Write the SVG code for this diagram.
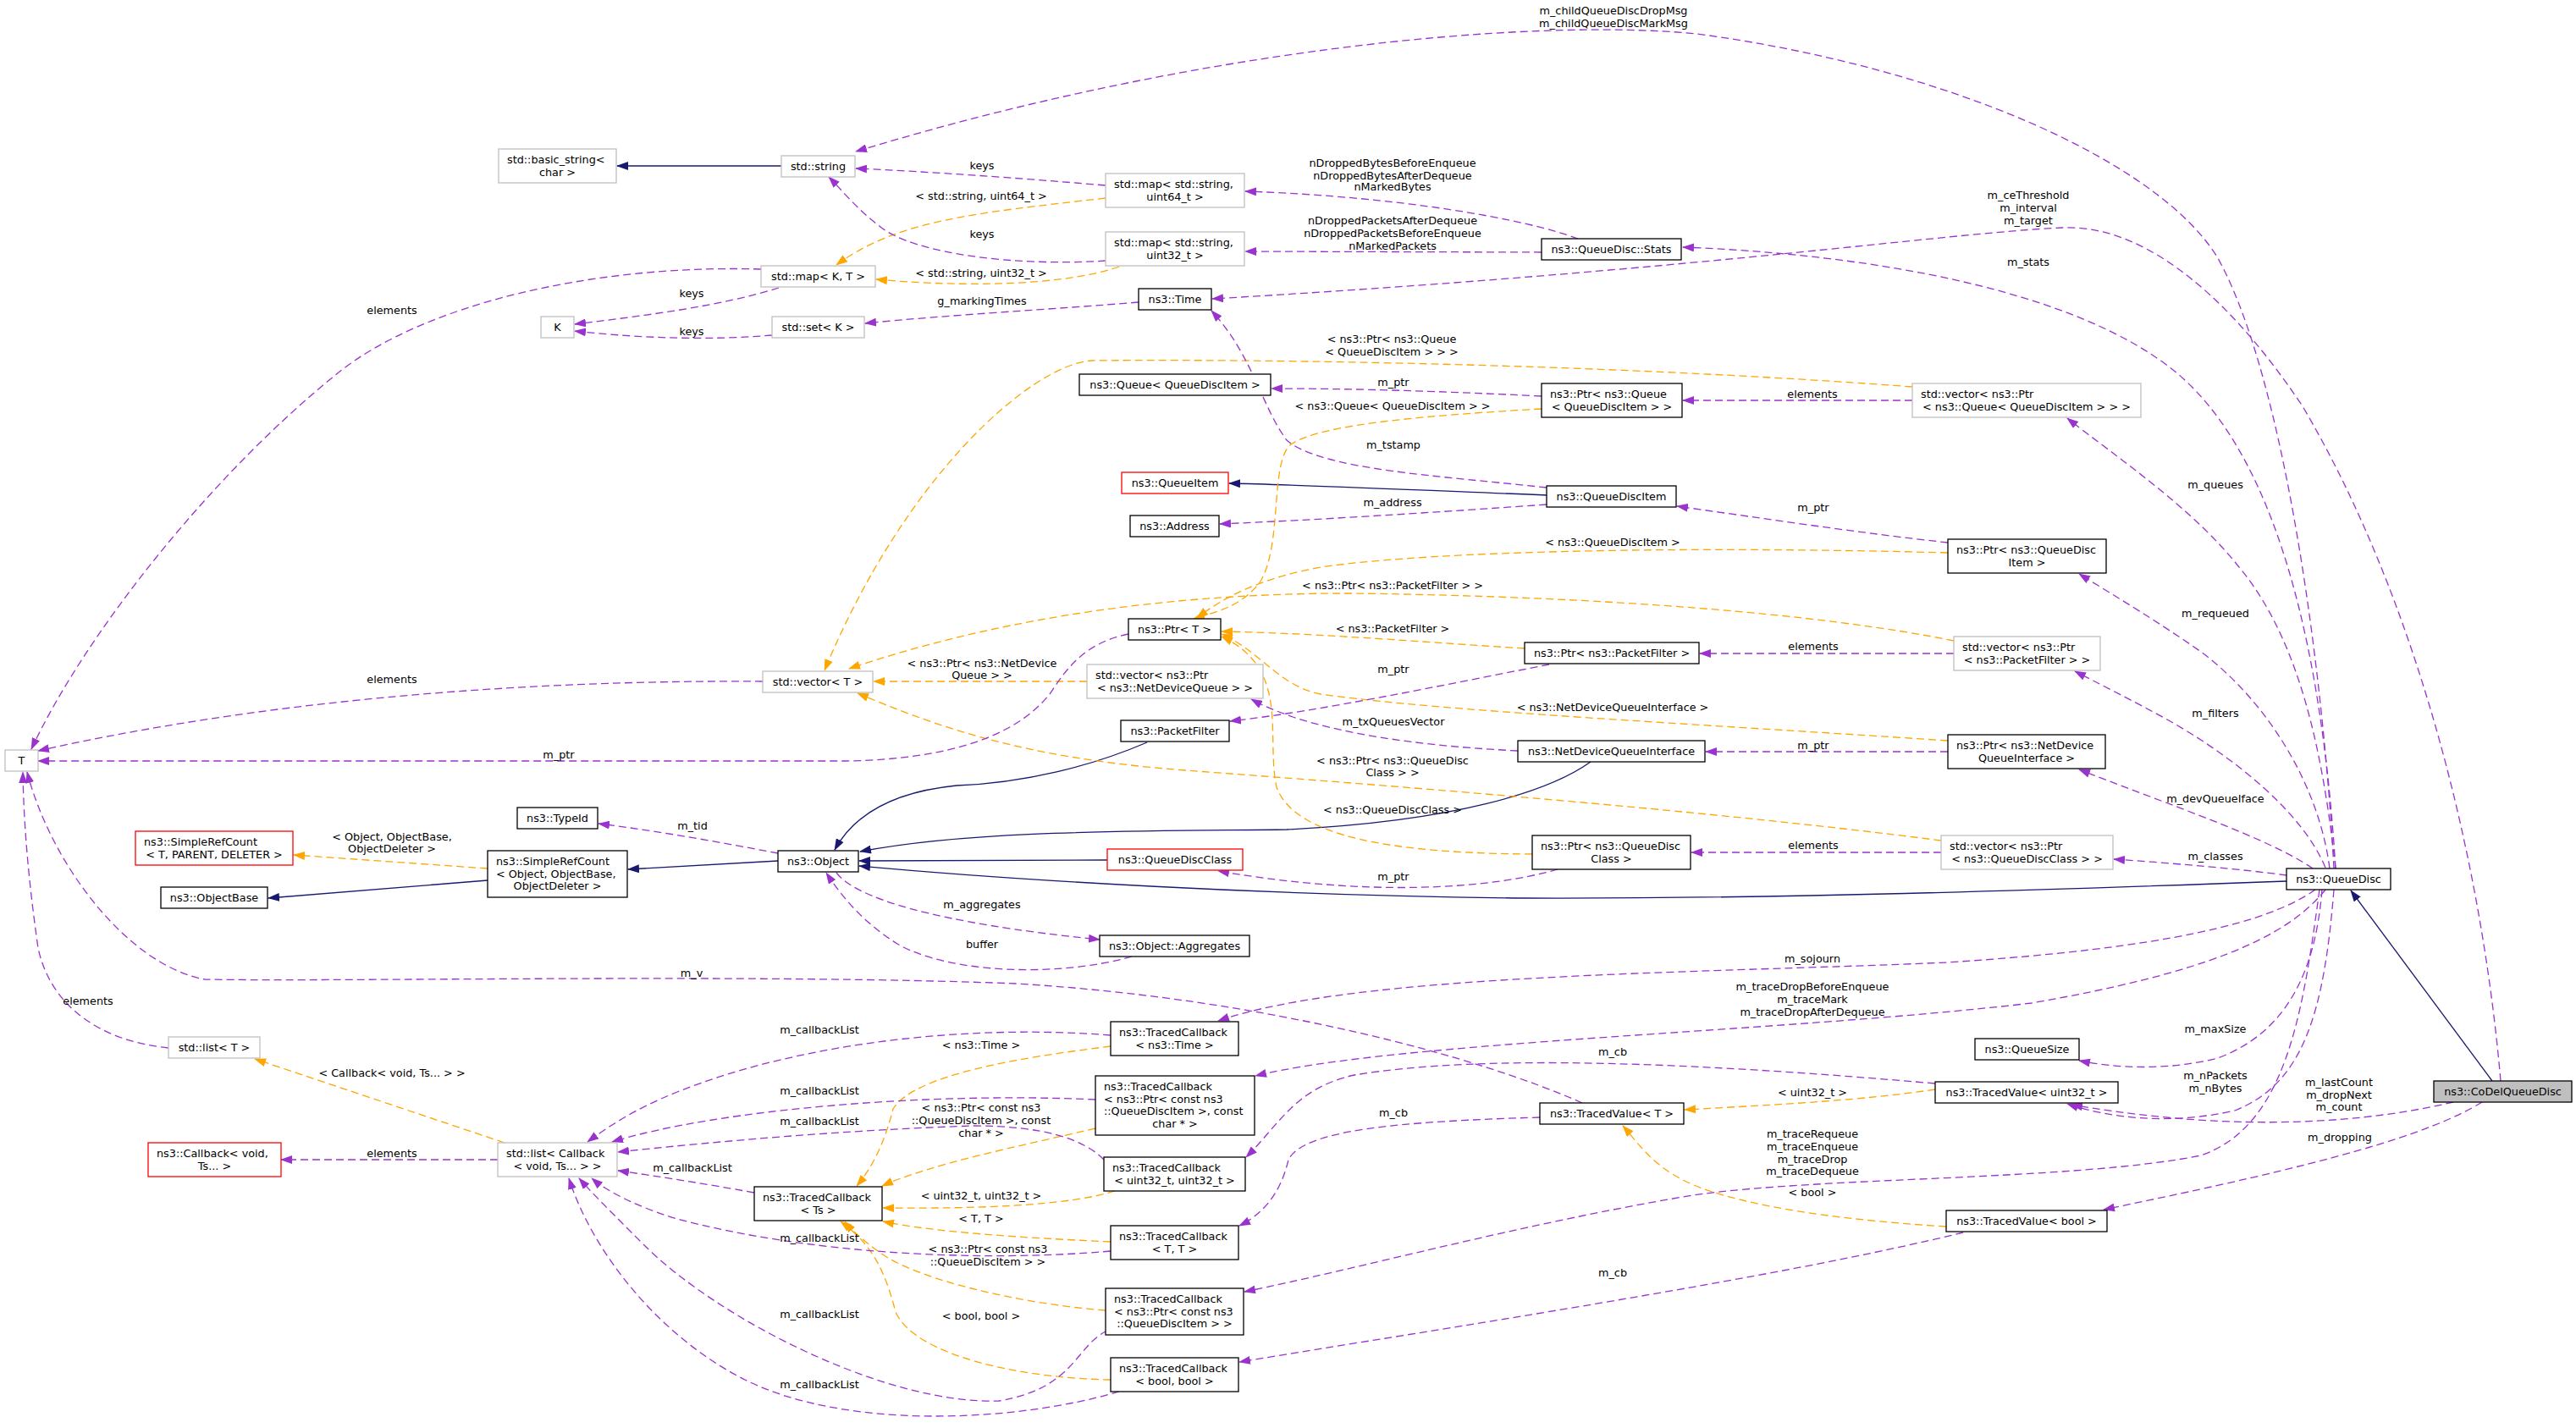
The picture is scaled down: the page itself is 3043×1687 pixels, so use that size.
<svg xmlns="http://www.w3.org/2000/svg" width="3043" height="1687" viewBox="0 0 3043 1687">
<style>
text{font-family:"DejaVu Sans","Liberation Sans",sans-serif;font-size:12.8px;fill:#000}
.m{text-anchor:middle}
.n rect{fill:#fff;stroke:#000;stroke-width:1.3}
.g rect{stroke:#bfbfbf}
.r rect{stroke:#ff0000}
.c rect{fill:#bfbfbf}
.p{fill:none;stroke:#9a32cd;stroke-width:1.3;stroke-dasharray:9,5;marker-end:url(#ap)}
.o{fill:none;stroke:#ffa500;stroke-width:1.3;stroke-dasharray:9,5;marker-end:url(#ao)}
.i{fill:none;stroke:#191970;stroke-width:1.3;marker-end:url(#an)}
</style>
<defs>
<marker id="ap" viewBox="0 0 14 10" refX="13" refY="5" markerWidth="14" markerHeight="10" markerUnits="userSpaceOnUse" orient="auto"><path d="M0,0L14,5L0,10z" fill="#9a32cd"/></marker>
<marker id="ao" viewBox="0 0 14 10" refX="13" refY="5" markerWidth="14" markerHeight="10" markerUnits="userSpaceOnUse" orient="auto"><path d="M0,0L14,5L0,10z" fill="#ffa500"/></marker>
<marker id="an" viewBox="0 0 14 10" refX="13" refY="5" markerWidth="14" markerHeight="10" markerUnits="userSpaceOnUse" orient="auto"><path d="M0,0L14,5L0,10z" fill="#191970"/></marker>
</defs>
<rect width="3043" height="1687" fill="#fff"/>
<g id="connectors">
<path class="i" d="M923,196L729,196"/>
<path class="i" d="M1827,585C1700,580 1550,573 1452,571"/>
<path class="i" d="M576,1040L317,1061"/>
<path class="i" d="M919,1017L742,1027"/>
<path class="i" d="M1355,877C1290,905 1210,925 1130,928C1060,935 1010,960 986,1004"/>
<path class="i" d="M1879,900C1830,935 1720,970 1520,980C1350,982 1150,980 1016,1006"/>
<path class="i" d="M1308,1016L1015,1017"/>
<path class="i" d="M2701,1041C2400,1052 2100,1062 1800,1061C1500,1058 1200,1040 1015,1023"/>
<path class="i" d="M2944,1277L2777,1052"/>
<path class="o" d="M1306,234C1150,252 1060,260 988,313"/>
<path class="o" d="M1322,315C1250,340 1120,338 1035,330"/>
<path class="o" d="M2259,457C1900,430 1500,424 1290,426C1220,430 1070,560 974,792"/>
<path class="o" d="M1821,483C1700,490 1560,500 1525,525C1500,545 1515,640 1490,685C1470,715 1440,722 1410,731"/>
<path class="o" d="M2301,653C2000,645 1700,650 1560,670C1480,685 1440,710 1414,730"/>
<path class="o" d="M2308,757C2150,725 1900,705 1600,701C1350,700 1150,740 1003,790"/>
<path class="o" d="M1801,766C1700,760 1560,748 1443,746"/>
<path class="o" d="M1284,805L1032,805"/>
<path class="o" d="M2301,875C2000,855 1700,840 1560,820C1510,810 1490,770 1443,749"/>
<path class="o" d="M2293,993C2000,955 1600,925 1400,910C1200,895 1100,855 1013,819"/>
<path class="o" d="M1810,1009C1650,1008 1530,990 1508,930C1495,870 1525,790 1443,752"/>
<path class="o" d="M576,1026L347,1010"/>
<path class="o" d="M596,1350L301,1251"/>
<path class="o" d="M1312,1236C1200,1250 1080,1270 1055,1310C1045,1350 1030,1380 1012,1401"/>
<path class="o" d="M1294,1333C1200,1355 1100,1375 1042,1401"/>
<path class="o" d="M1317,1407C1260,1425 1150,1428 1043,1427"/>
<path class="o" d="M1312,1467C1200,1462 1100,1455 1043,1443"/>
<path class="o" d="M1306,1548C1200,1540 1080,1510 1040,1480C1020,1466 1008,1455 998,1443"/>
<path class="o" d="M1312,1630C1200,1628 1080,1600 1058,1550C1045,1500 1030,1470 993,1443"/>
<path class="o" d="M2286,1287C2200,1300 2100,1305 1990,1311"/>
<path class="o" d="M2299,1449C2150,1440 2040,1420 1990,1395C1950,1375 1935,1350 1917,1330"/>
<path class="p" d="M2757,1026C2745,800 2700,450 2620,305C2550,190 2300,80 2005,40C1800,20 1400,60 1011,179"/>
<path class="p" d="M1306,219C1200,210 1100,203 1011,199"/>
<path class="p" d="M1306,308C1200,315 1080,300 1040,268C1010,245 995,225 979,209"/>
<path class="p" d="M899,318C700,312 500,360 400,440C250,560 100,750 37,885"/>
<path class="p" d="M920,340C850,362 760,373 679,383"/>
<path class="p" d="M912,396C840,402 760,400 679,391"/>
<path class="p" d="M1345,357C1250,365 1120,372 1022,382"/>
<path class="p" d="M1864,282C1800,258 1650,232 1471,226"/>
<path class="p" d="M1821,298L1471,297"/>
<path class="p" d="M2759,1026C2745,800 2700,550 2572,441C2450,340 2200,300 1988,292"/>
<path class="p" d="M2752,1026C2740,930 2680,830 2600,770C2550,735 2500,705 2456,678"/>
<path class="p" d="M2747,1025C2720,960 2640,895 2560,850C2520,828 2480,808 2451,793"/>
<path class="p" d="M2732,1026C2680,990 2560,950 2456,909"/>
<path class="p" d="M2701,1034C2650,1027 2570,1020 2497,1015"/>
<path class="p" d="M2759,1026C2745,900 2720,760 2645,670C2590,600 2500,540 2442,494"/>
<path class="p" d="M2259,473L1988,473"/>
<path class="p" d="M1821,468C1700,462 1600,459 1502,459"/>
<path class="p" d="M1827,576C1700,562 1560,555 1520,520C1490,480 1480,420 1431,367"/>
<path class="p" d="M1827,596C1700,605 1560,614 1441,619"/>
<path class="p" d="M2301,641C2200,630 2080,612 1981,598"/>
<path class="p" d="M1333,749C1280,760 1260,790 1240,820C1200,870 1120,897 1000,899L45,899"/>
<path class="p" d="M901,805C600,803 300,830 45,887"/>
<path class="p" d="M2308,772L2008,772"/>
<path class="p" d="M1830,785C1700,810 1560,840 1453,852"/>
<path class="p" d="M1793,887C1650,880 1540,860 1478,826"/>
<path class="p" d="M2301,888L2015,888"/>
<path class="p" d="M2293,1007L1998,1007"/>
<path class="p" d="M1840,1027C1760,1050 1620,1060 1439,1029"/>
<path class="p" d="M919,1008C850,995 780,982 707,973"/>
<path class="p" d="M988,1031C1010,1060 1100,1090 1299,1110"/>
<path class="p" d="M1337,1130C1250,1155 1120,1150 1060,1115C1020,1090 995,1060 976,1031"/>
<path class="p" d="M1869,1303C1750,1250 1500,1180 1200,1162C900,1150 400,1160 242,1157C150,1140 60,1020 32,912"/>
<path class="p" d="M199,1238C120,1230 60,1190 45,1120C35,1050 28,980 27,912"/>
<path class="p" d="M588,1370L332,1370"/>
<path class="p" d="M1312,1223C1150,1210 950,1230 800,1290C750,1310 720,1330 694,1349"/>
<path class="p" d="M1294,1299C1100,1290 850,1310 723,1349"/>
<path class="p" d="M1304,1370C1280,1345 1230,1330 1150,1330C1000,1335 850,1348 730,1361"/>
<path class="p" d="M891,1409C830,1398 780,1390 730,1383"/>
<path class="p" d="M1312,1478C1150,1492 950,1480 800,1440C760,1428 720,1410 699,1392"/>
<path class="p" d="M1308,1572C1270,1590 1270,1640 1180,1655C1050,1660 850,1560 760,1470C720,1430 700,1410 684,1392"/>
<path class="p" d="M1322,1644C1200,1680 1000,1690 880,1630C780,1580 700,1480 672,1392"/>
<path class="p" d="M2735,1051C2680,1090 2560,1120 2300,1137C2000,1150 1600,1150 1439,1206"/>
<path class="p" d="M2747,1051C2700,1110 2600,1150 2400,1185C2100,1220 1650,1230 1483,1271"/>
<path class="p" d="M2286,1280C2000,1255 1750,1245 1600,1270C1530,1285 1510,1330 1472,1367"/>
<path class="p" d="M1819,1320C1650,1325 1540,1335 1522,1370C1515,1400 1500,1430 1464,1448"/>
<path class="p" d="M2740,1051C2720,1200 2700,1330 2600,1365C2450,1395 2150,1390 2000,1412C1800,1445 1600,1500 1470,1526"/>
<path class="p" d="M2319,1456C2100,1510 1700,1570 1464,1609"/>
<path class="p" d="M2743,1051C2735,1150 2700,1220 2620,1250C2560,1265 2500,1262 2456,1253"/>
<path class="p" d="M2757,1051C2745,1200 2720,1280 2640,1312C2560,1330 2490,1320 2442,1304"/>
<path class="p" d="M2898,1302C2800,1325 2650,1340 2447,1305"/>
<path class="p" d="M2932,1302C2870,1340 2750,1375 2485,1429"/>
<path class="p" d="M2954,1277C2930,1000 2850,700 2720,480C2620,330 2520,265 2436,269C2300,275 2000,320 1432,353"/>
</g>
<g id="edge-labels" class="m">
<text x="1160" y="199.5">keys</text>
<text x="1159" y="236">&lt; std::string, uint64_t &gt;</text>
<text x="1160" y="280.5">keys</text>
<text x="1159" y="327">&lt; std::string, uint32_t &gt;</text>
<text x="817" y="351">keys</text>
<text x="817" y="395.5">keys</text>
<text x="1160" y="360">g_markingTimes</text>
<text x="463" y="370.5">elements</text>
<text x="1906" y="16.5">m_childQueueDiscDropMsg</text>
<text x="1906" y="31.5">m_childQueueDiscMarkMsg</text>
<text x="1645" y="196.5">nDroppedBytesBeforeEnqueue</text>
<text x="1645" y="211.5">nDroppedBytesAfterDequeue</text>
<text x="1645" y="225">nMarkedBytes</text>
<text x="1645" y="265">nDroppedPacketsAfterDequeue</text>
<text x="1645" y="280">nDroppedPacketsBeforeEnqueue</text>
<text x="1645" y="294.5">nMarkedPackets</text>
<text x="2396" y="235">m_ceThreshold</text>
<text x="2396" y="249.5">m_interval</text>
<text x="2396" y="264.5">m_target</text>
<text x="2396" y="313.5">m_stats</text>
<text x="1644" y="405">&lt; ns3::Ptr&lt; ns3::Queue</text>
<text x="1644" y="420">&lt; QueueDiscItem &gt; &gt; &gt;</text>
<text x="1646" y="455.5">m_ptr</text>
<text x="1645" y="484">&lt; ns3::Queue&lt; QueueDiscItem &gt; &gt;</text>
<text x="2141" y="469.5">elements</text>
<text x="1646" y="529.5">m_tstamp</text>
<text x="2617" y="576.5">m_queues</text>
<text x="1645" y="597.5">m_address</text>
<text x="2142" y="603.5">m_ptr</text>
<text x="1905" y="644.5">&lt; ns3::QueueDiscItem &gt;</text>
<text x="1645" y="695.5">&lt; ns3::Ptr&lt; ns3::PacketFilter &gt; &gt;</text>
<text x="2617" y="728.5">m_requeued</text>
<text x="1645" y="746.5">&lt; ns3::PacketFilter &gt;</text>
<text x="2142" y="768">elements</text>
<text x="1160" y="787.5">&lt; ns3::Ptr&lt; ns3::NetDevice</text>
<text x="1160" y="801.5">Queue &gt; &gt;</text>
<text x="1646" y="795">m_ptr</text>
<text x="463" y="807">elements</text>
<text x="1905" y="840">&lt; ns3::NetDeviceQueueInterface &gt;</text>
<text x="2617" y="846.5">m_filters</text>
<text x="1646" y="856.5">m_txQueuesVector</text>
<text x="2142" y="884.5">m_ptr</text>
<text x="660" y="895.5">m_ptr</text>
<text x="1645" y="903">&lt; ns3::Ptr&lt; ns3::QueueDisc</text>
<text x="1645" y="917">Class &gt; &gt;</text>
<text x="2617" y="947.5">m_devQueueIface</text>
<text x="1645" y="960.5">&lt; ns3::QueueDiscClass &gt;</text>
<text x="818" y="979.5">m_tid</text>
<text x="463" y="992.5">&lt; Object, ObjectBase,</text>
<text x="463" y="1007">ObjectDeleter &gt;</text>
<text x="2142" y="1003">elements</text>
<text x="2617" y="1015.5">m_classes</text>
<text x="1646" y="1039.5">m_ptr</text>
<text x="1160" y="1073">m_aggregates</text>
<text x="1160" y="1119.5">buffer</text>
<text x="2141" y="1136.5">m_sojourn</text>
<text x="817" y="1153.5">m_v</text>
<text x="2141" y="1169.5">m_traceDropBeforeEnqueue</text>
<text x="2141" y="1184.5">m_traceMark</text>
<text x="2141" y="1199.5">m_traceDropAfterDequeue</text>
<text x="104" y="1186.5">elements</text>
<text x="2617" y="1219.5">m_maxSize</text>
<text x="968" y="1221">m_callbackList</text>
<text x="1159" y="1239">&lt; ns3::Time &gt;</text>
<text x="1905" y="1247">m_cb</text>
<text x="463" y="1271.5">&lt; Callback&lt; void, Ts... &gt; &gt;</text>
<text x="2617" y="1275">m_nPackets</text>
<text x="2617" y="1289.5">m_nBytes</text>
<text x="2763" y="1283">m_lastCount</text>
<text x="2763" y="1297.5">m_dropNext</text>
<text x="2763" y="1312">m_count</text>
<text x="968" y="1293">m_callbackList</text>
<text x="2141" y="1295">&lt; uint32_t &gt;</text>
<text x="1159" y="1313">&lt; ns3::Ptr&lt; const ns3</text>
<text x="1159" y="1328">::QueueDiscItem &gt;, const</text>
<text x="1159" y="1343">char * &gt;</text>
<text x="1646" y="1319">m_cb</text>
<text x="968" y="1328.5">m_callbackList</text>
<text x="2141" y="1344">m_traceRequeue</text>
<text x="2141" y="1359">m_traceEnqueue</text>
<text x="2141" y="1373.5">m_traceDrop</text>
<text x="2141" y="1388">m_traceDequeue</text>
<text x="2764" y="1347.5">m_dropping</text>
<text x="463" y="1366.5">elements</text>
<text x="818" y="1384">m_callbackList</text>
<text x="2141" y="1412.5">&lt; bool &gt;</text>
<text x="1159" y="1417">&lt; uint32_t, uint32_t &gt;</text>
<text x="1159" y="1443.5">&lt; T, T &gt;</text>
<text x="968" y="1467">m_callbackList</text>
<text x="1167" y="1480">&lt; ns3::Ptr&lt; const ns3</text>
<text x="1167" y="1495">::QueueDiscItem &gt; &gt;</text>
<text x="1905" y="1508">m_cb</text>
<text x="968" y="1556.5">m_callbackList</text>
<text x="1159" y="1558.5">&lt; bool, bool &gt;</text>
<text x="968" y="1639.5">m_callbackList</text>
</g>
<g id="n_basic_string" class="n g"><rect x="589" y="176" width="139" height="40"/><text x="599" y="192.7">std::basic_string&lt;</text><text class="m" x="658.5" y="207.5">char &gt;</text></g>
<g id="n_std_string" class="n g"><rect x="923" y="184" width="87" height="25"/><text class="m" x="966.5" y="201">std::string</text></g>
<g id="n_map64" class="n g"><rect x="1306" y="205" width="164" height="40"/><text x="1316" y="221.7">std::map&lt; std::string,</text><text class="m" x="1388" y="236.5">uint64_t &gt;</text></g>
<g id="n_map32" class="n g"><rect x="1306" y="274" width="164" height="40"/><text x="1316" y="290.7">std::map&lt; std::string,</text><text class="m" x="1388" y="305.5">uint32_t &gt;</text></g>
<g id="n_mapKT" class="n g"><rect x="899" y="314" width="135" height="25"/><text class="m" x="966.5" y="331">std::map&lt; K, T &gt;</text></g>
<g id="n_K" class="n g"><rect x="639" y="374" width="39" height="25"/><text class="m" x="658.5" y="391">K</text></g>
<g id="n_setK" class="n g"><rect x="912" y="374" width="109" height="25"/><text class="m" x="966.5" y="391">std::set&lt; K &gt;</text></g>
<g id="n_Time" class="n"><rect x="1345" y="341" width="86" height="25"/><text class="m" x="1388" y="358">ns3::Time</text></g>
<g id="n_Stats" class="n"><rect x="1821" y="282" width="165" height="25"/><text class="m" x="1903.5" y="299">ns3::QueueDisc::Stats</text></g>
<g id="n_QueueQDI" class="n"><rect x="1275" y="442" width="226" height="25"/><text class="m" x="1388" y="459">ns3::Queue&lt; QueueDiscItem &gt;</text></g>
<g id="n_PtrQueue" class="n"><rect x="1821" y="453" width="166" height="40"/><text x="1831" y="469.7">ns3::Ptr&lt; ns3::Queue</text><text class="m" x="1904" y="484.5">&lt; QueueDiscItem &gt; &gt;</text></g>
<g id="n_vecPtrQueue" class="n g"><rect x="2259" y="453" width="270" height="40"/><text x="2269" y="469.7">std::vector&lt; ns3::Ptr</text><text class="m" x="2394" y="484.5">&lt; ns3::Queue&lt; QueueDiscItem &gt; &gt; &gt;</text></g>
<g id="n_QueueItem" class="n r"><rect x="1325" y="558" width="126" height="25"/><text class="m" x="1388" y="575">ns3::QueueItem</text></g>
<g id="n_QueueDiscItem" class="n"><rect x="1827" y="574" width="153" height="25"/><text class="m" x="1903.5" y="591">ns3::QueueDiscItem</text></g>
<g id="n_Address" class="n"><rect x="1335" y="609" width="105" height="25"/><text class="m" x="1387.5" y="626">ns3::Address</text></g>
<g id="n_PtrQDI" class="n"><rect x="2301" y="637" width="187" height="40"/><text x="2311" y="653.7">ns3::Ptr&lt; ns3::QueueDisc</text><text class="m" x="2394.5" y="668.5">Item &gt;</text></g>
<g id="n_PtrT" class="n"><rect x="1333" y="731" width="109" height="25"/><text class="m" x="1387.5" y="748">ns3::Ptr&lt; T &gt;</text></g>
<g id="n_PtrPF" class="n"><rect x="1801" y="759" width="206" height="25"/><text class="m" x="1904" y="776">ns3::Ptr&lt; ns3::PacketFilter &gt;</text></g>
<g id="n_vecPtrPF" class="n g"><rect x="2308" y="752" width="173" height="40"/><text x="2318" y="768.7">std::vector&lt; ns3::Ptr</text><text class="m" x="2394.5" y="783.5">&lt; ns3::PacketFilter &gt; &gt;</text></g>
<g id="n_vecT" class="n g"><rect x="901" y="793" width="130" height="25"/><text class="m" x="966" y="810">std::vector&lt; T &gt;</text></g>
<g id="n_vecPtrNDQ" class="n g"><rect x="1284" y="785" width="208" height="40"/><text x="1294" y="801.7">std::vector&lt; ns3::Ptr</text><text class="m" x="1388" y="816.5">&lt; ns3::NetDeviceQueue &gt; &gt;</text></g>
<g id="n_T" class="n g"><rect x="6" y="886" width="39" height="25"/><text class="m" x="25.5" y="903">T</text></g>
<g id="n_PacketFilter" class="n"><rect x="1324" y="851" width="128" height="25"/><text class="m" x="1388" y="868">ns3::PacketFilter</text></g>
<g id="n_NDQI" class="n"><rect x="1793" y="875" width="221" height="25"/><text class="m" x="1903.5" y="892">ns3::NetDeviceQueueInterface</text></g>
<g id="n_PtrNDQI" class="n"><rect x="2301" y="868" width="186" height="40"/><text x="2311" y="884.7">ns3::Ptr&lt; ns3::NetDevice</text><text class="m" x="2394" y="899.5">QueueInterface &gt;</text></g>
<g id="n_TypeId" class="n"><rect x="611" y="954" width="95" height="25"/><text class="m" x="658.5" y="971">ns3::TypeId</text></g>
<g id="n_SRC_T" class="n r"><rect x="160" y="982" width="186" height="40"/><text x="170" y="998.7">ns3::SimpleRefCount</text><text class="m" x="253" y="1013.5">&lt; T, PARENT, DELETER &gt;</text></g>
<g id="n_ObjectBase" class="n"><rect x="190" y="1048" width="126" height="25"/><text class="m" x="253" y="1065">ns3::ObjectBase</text></g>
<g id="n_SRC_Object" class="n"><rect x="576" y="1005" width="165" height="55"/><text x="586" y="1021.7">ns3::SimpleRefCount</text><text x="586" y="1036.5">&lt; Object, ObjectBase,</text><text class="m" x="658.5" y="1051.3">ObjectDeleter &gt;</text></g>
<g id="n_Object" class="n"><rect x="919" y="1005" width="95" height="25"/><text class="m" x="966.5" y="1022">ns3::Object</text></g>
<g id="n_QueueDiscClass" class="n r"><rect x="1308" y="1003" width="160" height="25"/><text class="m" x="1388" y="1020">ns3::QueueDiscClass</text></g>
<g id="n_PtrQDC" class="n"><rect x="1810" y="987" width="187" height="40"/><text x="1820" y="1003.7">ns3::Ptr&lt; ns3::QueueDisc</text><text class="m" x="1903.5" y="1018.5">Class &gt;</text></g>
<g id="n_vecPtrQDC" class="n g"><rect x="2293" y="987" width="203" height="40"/><text x="2303" y="1003.7">std::vector&lt; ns3::Ptr</text><text class="m" x="2394.5" y="1018.5">&lt; ns3::QueueDiscClass &gt; &gt;</text></g>
<g id="n_QueueDisc" class="n"><rect x="2701" y="1026" width="123" height="25"/><text class="m" x="2762.5" y="1043">ns3::QueueDisc</text></g>
<g id="n_Aggregates" class="n"><rect x="1299" y="1105" width="177" height="25"/><text class="m" x="1387.5" y="1122">ns3::Object::Aggregates</text></g>
<g id="n_TCTime" class="n"><rect x="1312" y="1207" width="151" height="40"/><text x="1322" y="1223.7">ns3::TracedCallback</text><text class="m" x="1387.5" y="1238.5">&lt; ns3::Time &gt;</text></g>
<g id="n_listT" class="n g"><rect x="199" y="1225" width="108" height="25"/><text class="m" x="253" y="1242">std::list&lt; T &gt;</text></g>
<g id="n_QueueSize" class="n"><rect x="2333" y="1227" width="123" height="25"/><text class="m" x="2394.5" y="1244">ns3::QueueSize</text></g>
<g id="n_TCPtrChar" class="n"><rect x="1294" y="1271" width="188" height="70"/><text x="1304" y="1287.7">ns3::TracedCallback</text><text x="1304" y="1302.5">&lt; ns3::Ptr&lt; const ns3</text><text x="1304" y="1317.3">::QueueDiscItem &gt;, const</text><text class="m" x="1388" y="1332.1">char * &gt;</text></g>
<g id="n_TVuint32" class="n"><rect x="2286" y="1278" width="216" height="25"/><text class="m" x="2394" y="1295">ns3::TracedValue&lt; uint32_t &gt;</text></g>
<g id="n_CoDelQueueDisc" class="n c"><rect x="2875" y="1277" width="163" height="25"/><text class="m" x="2956.5" y="1294">ns3::CoDelQueueDisc</text></g>
<g id="n_TVT" class="n"><rect x="1819" y="1303" width="170" height="25"/><text class="m" x="1904" y="1320">ns3::TracedValue&lt; T &gt;</text></g>
<g id="n_Callback" class="n r"><rect x="175" y="1350" width="157" height="40"/><text x="185" y="1366.7">ns3::Callback&lt; void,</text><text class="m" x="253.5" y="1381.5">Ts... &gt;</text></g>
<g id="n_listCallback" class="n g"><rect x="588" y="1350" width="141" height="40"/><text x="598" y="1366.7">std::list&lt; Callback</text><text class="m" x="658.5" y="1381.5">&lt; void, Ts... &gt; &gt;</text></g>
<g id="n_TCuu" class="n"><rect x="1304" y="1367" width="167" height="40"/><text x="1314" y="1383.7">ns3::TracedCallback</text><text class="m" x="1387.5" y="1398.5">&lt; uint32_t, uint32_t &gt;</text></g>
<g id="n_TCTs" class="n"><rect x="891" y="1402" width="151" height="40"/><text x="901" y="1418.7">ns3::TracedCallback</text><text class="m" x="966.5" y="1433.5">&lt; Ts &gt;</text></g>
<g id="n_TVbool" class="n"><rect x="2299" y="1430" width="190" height="25"/><text class="m" x="2394" y="1447">ns3::TracedValue&lt; bool &gt;</text></g>
<g id="n_TCTT" class="n"><rect x="1312" y="1448" width="151" height="40"/><text x="1322" y="1464.7">ns3::TracedCallback</text><text class="m" x="1387.5" y="1479.5">&lt; T, T &gt;</text></g>
<g id="n_TCPtr" class="n"><rect x="1306" y="1522" width="163" height="55"/><text x="1316" y="1538.7">ns3::TracedCallback</text><text x="1316" y="1553.5">&lt; ns3::Ptr&lt; const ns3</text><text class="m" x="1387.5" y="1568.3">::QueueDiscItem &gt; &gt;</text></g>
<g id="n_TCbb" class="n"><rect x="1312" y="1604" width="151" height="40"/><text x="1322" y="1620.7">ns3::TracedCallback</text><text class="m" x="1387.5" y="1635.5">&lt; bool, bool &gt;</text></g>
</svg>
